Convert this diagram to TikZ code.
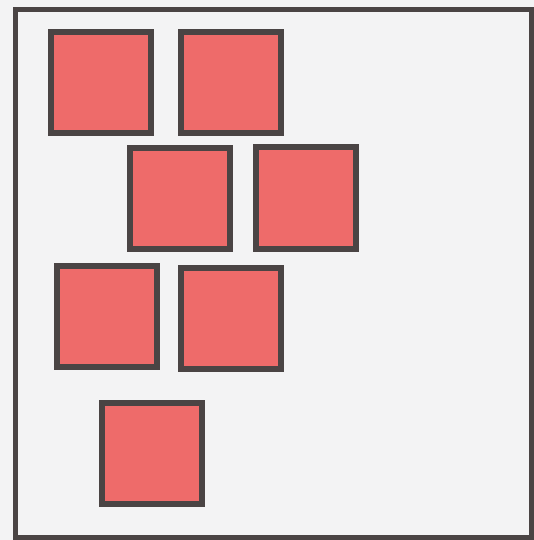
\documentclass[tikz,border=0pt]{standalone}
\begin{document}
\begin{tikzpicture}[x=1pt,y=-1pt,
  tile/.style={draw=edgecol, fill=tilecol, line width=6pt, inner sep=0pt, minimum width=100pt, minimum height=101pt, rectangle}]
\definecolor{edgecol}{HTML}{4A4444}
\definecolor{tilecol}{HTML}{EE6B6A}
\definecolor{paper}{HTML}{F3F3F4}
\fill[paper] (0,0) rectangle (534,540);
\useasboundingbox (0,0) rectangle (534,540);
\draw[edgecol, line width=5pt] (15,10) rectangle (531.5,537);
\node[tile] (s1) at (101,83) {};
\node[tile] (s2) at (230.5,83) {};
\node[tile] (s3) at (179.5,198.5) {};
\node[tile] (s4) at (306,198) {};
\node[tile] (s5) at (106.5,316) {};
\node[tile] (s6) at (231,318) {};
\node[tile] (s7) at (152,453.5) {};
\end{tikzpicture}
\end{document}
